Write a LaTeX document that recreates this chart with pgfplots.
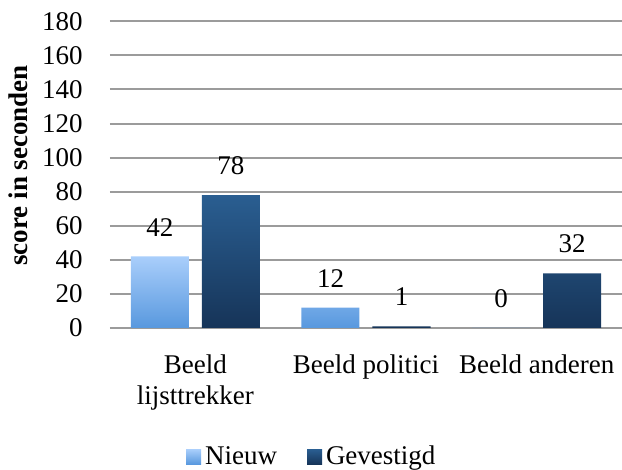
\documentclass[border=0pt]{standalone}
\usepackage{fontspec}
\setmainfont{Liberation Serif}
\usepackage{pgfplots}
\pgfplotsset{compat=1.18}
\definecolor{nieuwtop}{RGB}{169,206,251}
\definecolor{nieuwbot}{RGB}{88,152,222}
\definecolor{gevtop}{RGB}{42,94,145}
\definecolor{gevbot}{RGB}{22,52,88}
\definecolor{gridgray}{RGB}{155,155,155}
\begin{document}
\begin{tikzpicture}[font=\fontsize{13.5}{15.5}\selectfont]
\useasboundingbox (-55pt,-71pt) rectangle (256pt,164pt);
\begin{axis}[
  scale only axis,
  width=256pt, height=153.35pt,
  ymin=0, ymax=180,
  ytick={0,20,...,180},
  xmin=-0.5, xmax=2.5,
  xtick={0,1,2},
  xticklabels={{Beeld\\lijsttrekker},{Beeld politici},{Beeld anderen}},
  ybar=6.5pt, bar width=29pt,
  axis line style={draw=none},
  major tick length=0pt,
  ymajorgrids,
  major grid style={draw=gridgray, line width=1pt},
  /pgf/number format/assume math mode=true,
  yticklabel style={inner sep=0pt, anchor=east, xshift=-13.5pt},
  xticklabel style={inner sep=0pt, anchor=north, align=center, yshift=-13pt},
  ylabel={\bfseries score in seconden},
  ylabel style={at={(axis description cs:-0.18,0.53)}, anchor=center},
  nodes near coords,
  nodes near coords style={inner sep=0pt, anchor=south, yshift=10pt, text=black},
  legend style={draw=none, fill=none, at={(axis description cs:0.396,-0.42)}, anchor=center,
    legend columns=2, /tikz/every even column/.append style={column sep=13pt},
    inner sep=0pt},
  legend cell align=left,
]
\addplot[draw=none, top color=nieuwtop, bottom color=nieuwbot,
  legend image code/.code={\fill[top color=nieuwtop, bottom color=nieuwbot] (0pt,-3.75pt) rectangle (7.5pt,3.75pt);}]
  coordinates {(0,42) (1,12) (2,0)};
\addplot[draw=none, top color=gevtop, bottom color=gevbot,
  legend image code/.code={\fill[top color=gevtop, bottom color=gevbot] (0pt,-3.75pt) rectangle (7.5pt,3.75pt);}]
  coordinates {(0,78) (1,1) (2,32)};
\legend{Nieuw, Gevestigd}
\end{axis}
\end{tikzpicture}
\end{document}
